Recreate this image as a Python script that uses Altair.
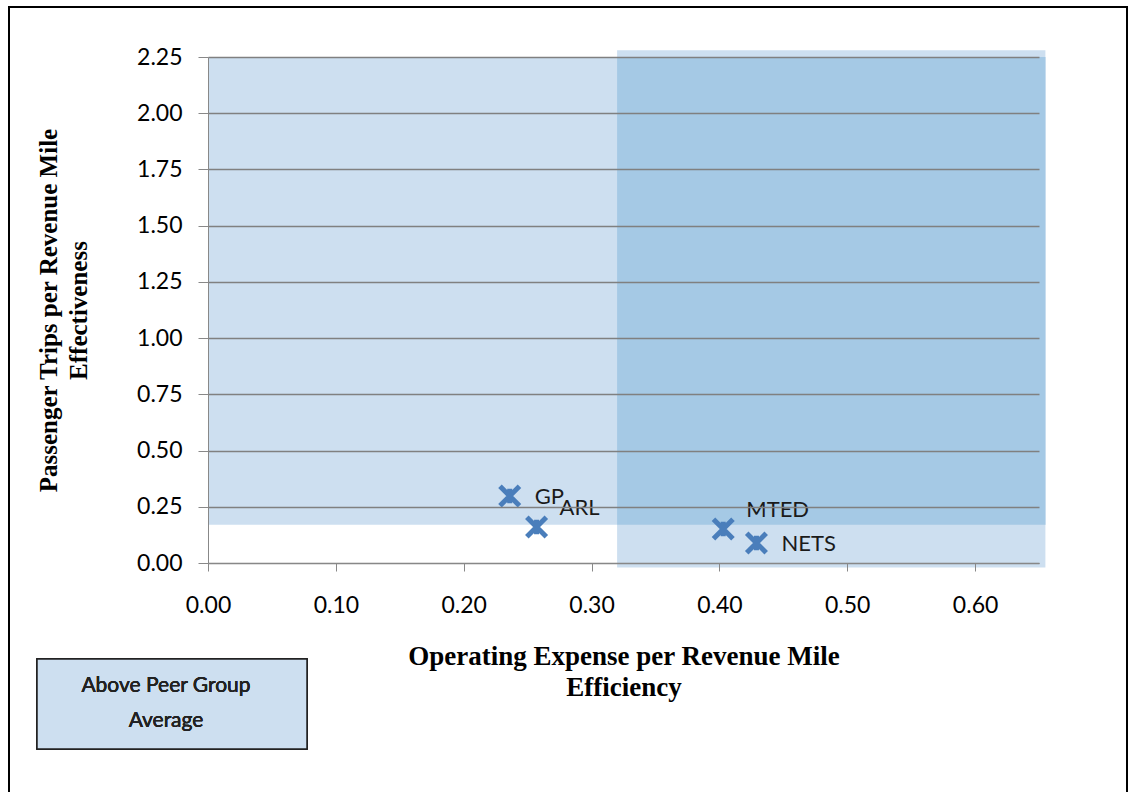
import altair as alt
import pandas as pd

# --- data ---
agencies = ["GP", "ARL", "MTED", "NETS"]
op_expense = [0.236, 0.257, 0.403, 0.429]
pass_trips = [0.298, 0.160, 0.151, 0.089]
label_group = ["right", "above", "above", "right"]

band_names = ["horizontal", "vertical", "overlap"]
band_x0 = [0.0, 0.32, 0.32]
band_x1 = [0.655, 0.655, 0.655]
band_y0 = [0.17, -0.02, 0.17]
band_y1 = [2.25, 2.28, 2.25]
band_color = ["#cddff0", "#cddff0", "#a5c9e5"]

x_ticks = [0.0, 0.1, 0.2, 0.3, 0.4, 0.5, 0.6]
y_ticks = [0.0, 0.25, 0.5, 0.75, 1.0, 1.25, 1.5, 1.75, 2.0, 2.25]

pts = pd.DataFrame({"agency": agencies, "x": op_expense, "y": pass_trips, "grp": label_group})
bands = pd.DataFrame({"name": band_names, "x0": band_x0, "x1": band_x1,
                      "y0": band_y0, "y1": band_y1, "color": band_color})

W, H = 831, 506
LEFT, TOP = 208, 57

xscale = alt.Scale(domain=[0, 0.65], nice=False, zero=False)
yscale = alt.Scale(domain=[0, 2.25], nice=False, zero=False)

xaxis = alt.Axis(values=x_ticks, format=".2f", grid=False, domainColor="#888888",
                 tickColor="#888888", tickSize=8, labelPadding=23, labelFontSize=23,
                 labelFont="Lato", labelColor="#000000", labelFlush=False,
                 title=["Operating Expense per Revenue Mile", "Efficiency"],
                 titleFont="Liberation Serif", titleFontSize=27, titleFontWeight="bold",
                 titleColor="#000000", titlePadding=26, titleLineHeight=31, zindex=1)
yaxis = alt.Axis(values=y_ticks, format=".2f", grid=True, gridColor="#808080", gridWidth=1.5,
                 domainColor="#888888", tickColor="#888888", tickSize=10, labelPadding=16,
                 labelFontSize=23, labelFont="Lato", labelColor="#000000", labelFlush=False,
                 title=["Passenger Trips per Revenue Mile", "Effectiveness"],
                 titleFont="Liberation Serif", titleFontSize=25, titleFontWeight="bold",
                 titleColor="#000000", titlePadding=45, titleLineHeight=30, zindex=1)

rects = alt.Chart(bands).mark_rect(clip=False).encode(
    x=alt.X("x0:Q", scale=xscale, axis=xaxis),
    x2="x1:Q",
    y=alt.Y("y0:Q", scale=yscale, axis=yaxis),
    y2="y1:Q",
    color=alt.Color("color:N", scale=None, legend=None),
)

star = "M-1,-1L1,1M1,-1L-1,1M0,-0.75L0,0.75"
points = alt.Chart(pts).mark_point(shape=star, size=380, strokeWidth=5, color="#4a7ebb",
                                   opacity=1, filled=False).encode(
    x=alt.X("x:Q", scale=xscale), y=alt.Y("y:Q", scale=yscale))

lbl_right = alt.Chart(pts).transform_filter("datum.grp == 'right'").mark_text(
    align="left", baseline="middle", dx=25, dy=1, fontSize=22, font="Lato", color="#1a1a1a"
).encode(x=alt.X("x:Q", scale=xscale), y=alt.Y("y:Q", scale=yscale), text="agency:N")

lbl_above = alt.Chart(pts).transform_filter("datum.grp == 'above'").mark_text(
    align="left", baseline="middle", dx=23, dy=-19, fontSize=22, font="Lato", color="#1a1a1a"
).encode(x=alt.X("x:Q", scale=xscale), y=alt.Y("y:Q", scale=yscale), text="agency:N")

legend_box = alt.Chart(pts).mark_rect(fill="#cddff0", stroke="#222222", strokeWidth=1.5,
                                       clip=False).encode(
    x=alt.value(37 - LEFT), x2=alt.value(307 - LEFT),
    y=alt.value(659 - TOP), y2=alt.value(749 - TOP))

legend_text = alt.Chart(pts).mark_text(text=["Above Peer Group", "Average"], lineHeight=35,
                                        fontSize=21, font="Lato", fontWeight="normal",
                                        color="#222222",
                                        align="center", baseline="middle").encode(
    x=alt.value(166 - LEFT), y=alt.value(686 - TOP))

frame = alt.Chart(pts).mark_rect(fill=None, stroke="#000000", strokeWidth=2, clip=False).encode(
    x=alt.value(9 - LEFT), x2=alt.value(1127 - LEFT),
    y=alt.value(7 - TOP), y2=alt.value(800 - TOP))

chart = alt.layer(rects, points, lbl_right, lbl_above, legend_box, legend_text, frame).properties(
    width=W, height=H,
    autosize=alt.AutoSizeParams(type="none"),
    padding={"left": LEFT, "top": TOP, "right": 1128 - LEFT - W, "bottom": 792 - TOP - H},
    background="white",
).configure_view(stroke=None)

chart.save("out.html", embed_options={"renderer": "svg", "actions": False})
